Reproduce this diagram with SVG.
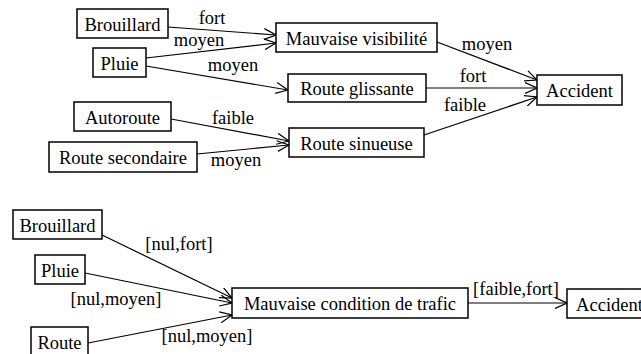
<svg xmlns="http://www.w3.org/2000/svg" width="641" height="354" viewBox="0 0 641 354">
<defs>
<style>
text{font-family:'Liberation Serif','Times New Roman',Times,'DejaVu Serif',serif;font-size:18.5px;fill:#000}
.n rect{fill:#fff;stroke:#000;stroke-width:1.5}
.n text{text-anchor:middle}
.e line{stroke:#000;stroke-width:1.2;marker-end:url(#a)}
</style>
<marker id="a" viewBox="0 0 12 12" markerWidth="12" markerHeight="12" refX="12" refY="6" orient="auto" markerUnits="userSpaceOnUse">
<path d="M0,0.5 L12,6 L0,11.5" fill="none" stroke="#000" stroke-width="1.2"/>
</marker>
</defs>
<rect width="641" height="354" fill="#fff"/>
<g id="connectors" class="e">
<line x1="168" y1="27" x2="276" y2="35"/>
<line x1="146" y1="58" x2="276" y2="43"/>
<line x1="146" y1="66" x2="288" y2="90"/>
<line x1="171" y1="119" x2="289" y2="141"/>
<line x1="197" y1="154" x2="289" y2="145"/>
<line x1="437" y1="42" x2="537" y2="80"/>
<line x1="426" y1="88" x2="537" y2="88"/>
<line x1="424" y1="135" x2="537" y2="97"/>
<line x1="102" y1="235" x2="232" y2="298"/>
<line x1="85" y1="273" x2="232" y2="303"/>
<line x1="88" y1="343" x2="232" y2="315"/>
<line x1="468" y1="303" x2="567" y2="303"/>
</g>
<g id="labels" font-family="Liberation Serif, serif">
<text x="212" y="24" text-anchor="middle">fort</text>
<text x="199" y="46" text-anchor="middle">moyen</text>
<text x="233" y="71" text-anchor="middle">moyen</text>
<text x="233" y="124" text-anchor="middle">faible</text>
<text x="236" y="166" text-anchor="middle">moyen</text>
<text x="487" y="50" text-anchor="middle">moyen</text>
<text x="473" y="82" text-anchor="middle">fort</text>
<text x="465" y="111" text-anchor="middle">faible</text>
<text x="179" y="250" text-anchor="middle">[nul,fort]</text>
<text x="116" y="305" text-anchor="middle">[nul,moyen]</text>
<text x="207" y="342" text-anchor="middle">[nul,moyen]</text>
<text x="516" y="295" text-anchor="middle">[faible,fort]</text>
</g>
<g id="n-brouillard" class="n"><rect x="77" y="9" width="91" height="29"/><text x="122.5" y="30.5">Brouillard</text></g>
<g id="n-pluie" class="n"><rect x="93" y="48" width="53" height="29"/><text x="119.5" y="69.5">Pluie</text></g>
<g id="n-autoroute" class="n"><rect x="74" y="102" width="97" height="29"/><text x="122.5" y="123.5">Autoroute</text></g>
<g id="n-routesec" class="n"><rect x="49" y="142" width="148" height="30"/><text x="123" y="164">Route secondaire</text></g>
<g id="n-mauvaisevis" class="n"><rect x="276" y="23" width="161" height="29"/><text x="356.5" y="44.5">Mauvaise visibilité</text></g>
<g id="n-routegliss" class="n"><rect x="288" y="74" width="138" height="28"/><text x="357" y="95">Route glissante</text></g>
<g id="n-routesin" class="n"><rect x="289" y="128" width="135" height="29"/><text x="356.5" y="149.5">Route sinueuse</text></g>
<g id="n-accident" class="n"><rect x="537" y="75" width="85" height="30"/><text x="579.5" y="97">Accident</text></g>
<g id="n-brouillard2" class="n"><rect x="13" y="210" width="89" height="29"/><text x="57.5" y="231.5">Brouillard</text></g>
<g id="n-pluie2" class="n"><rect x="35" y="255" width="50" height="29"/><text x="60" y="276.5">Pluie</text></g>
<g id="n-route2" class="n"><rect x="31" y="327" width="57" height="30"/><text x="59.5" y="348.5">Route</text></g>
<g id="n-mauvaisecond" class="n"><rect x="232" y="288" width="236" height="30"/><text x="350" y="310">Mauvaise condition de trafic</text></g>
<g id="n-accident2" class="n"><rect x="567" y="289" width="85" height="29"/><text x="609.5" y="310.5">Accident</text></g>
</svg>
